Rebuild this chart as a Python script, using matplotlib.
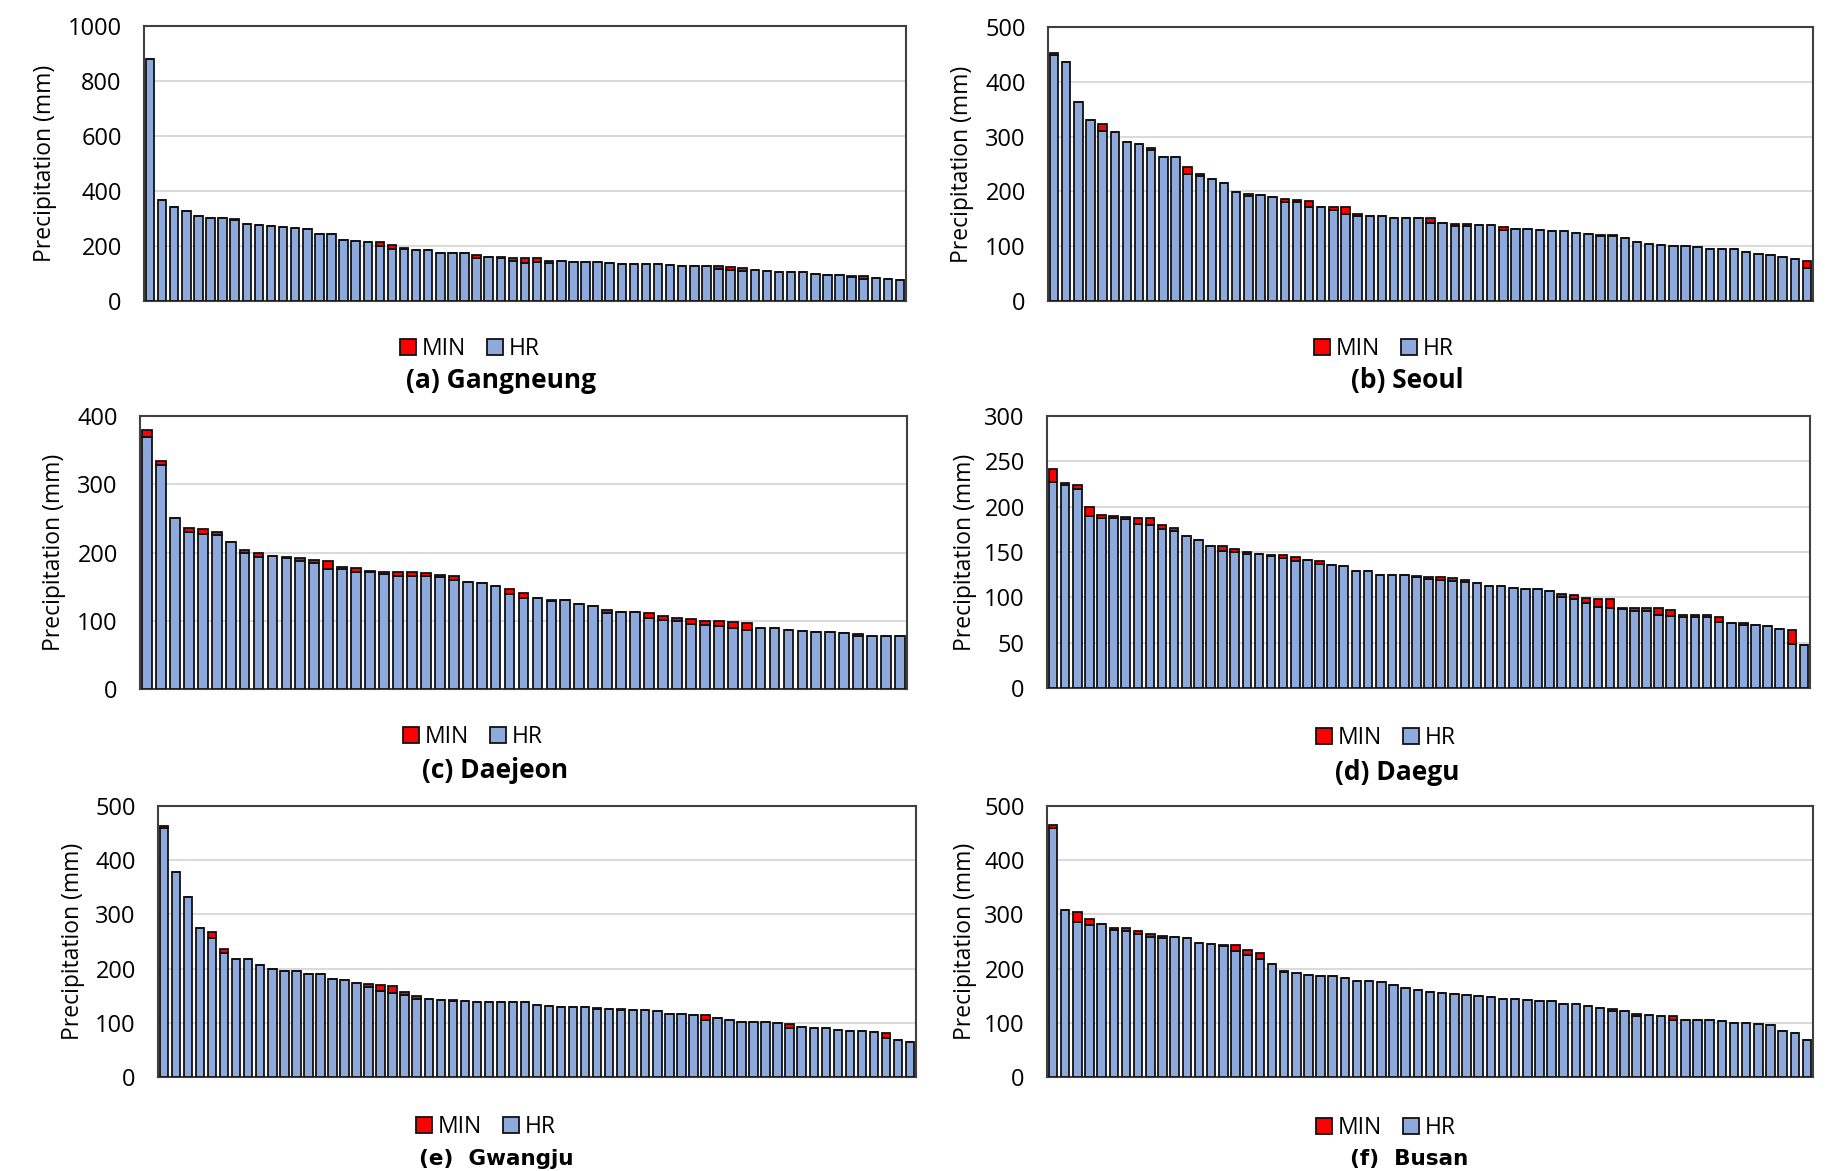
import matplotlib
matplotlib.use("Agg")
import matplotlib.pyplot as plt
import numpy as np

plt.rcParams['font.family'] = ['Open Sans', 'DejaVu Sans']

# ---------------- data ----------------
a_hr = [880, 368, 341, 329, 308, 303, 302, 295, 279, 275, 272, 270, 267, 261, 245, 245,
        223, 217, 216, 201, 190, 188, 187, 184, 175, 175, 174, 156, 161, 158, 144, 140,
        141, 140, 145, 142, 142, 141, 139, 136, 135, 134, 133, 131, 128, 128, 128, 117,
        113, 110, 113, 110, 107, 104, 104, 99, 96, 93, 89, 80, 82, 80, 76]
a_min = [0, 0, 0, 0, 0, 0, 0, 3, 0, 0, 0, 0, 0, 0, 0, 0,
         0, 0, 0, 12, 12, 6, 0, 0, 0, 0, 0, 13, 0, 3, 14, 18,
         15, 7, 0, 0, 0, 0, 0, 0, 0, 0, 0, 0, 0, 0, 0, 12,
         10, 10, 0, 0, 0, 0, 0, 0, 0, 0, 3, 10, 0, 0, 0]

b_hr = [448, 436, 364, 330, 311, 309, 290, 287, 275, 263, 262, 231, 228, 223, 215, 199,
        192, 193, 190, 181, 180, 172, 172, 166, 158, 155, 156, 156, 152, 152, 152, 142,
        143, 136, 136, 138, 138, 130, 132, 131, 130, 128, 127, 124, 123, 118, 118, 115,
        107, 104, 103, 101, 100, 98, 95, 94, 94, 90, 86, 84, 80, 77, 60]
b_min = [5, 0, 0, 0, 12, 0, 0, 0, 5, 0, 0, 14, 4, 0, 0, 0,
         3, 0, 0, 6, 5, 11, 0, 5, 13, 3, 0, 0, 0, 0, 0, 10,
         0, 5, 4, 0, 0, 5, 0, 0, 0, 0, 0, 0, 0, 3, 3, 0,
         0, 0, 0, 0, 0, 0, 0, 0, 0, 0, 0, 0, 0, 0, 13]

c_hr = [369, 328, 250, 230, 227, 225, 216, 199, 194, 195, 192, 187, 185, 176, 176, 171,
        171, 169, 166, 165, 165, 164, 160, 157, 155, 151, 139, 133, 134, 129, 130, 124,
        121, 112, 113, 113, 104, 101, 100, 95, 94, 92, 89, 87, 89, 89, 87, 85,
        84, 83, 82, 78, 78, 77, 77]
c_min = [10, 6, 0, 6, 7, 5, 0, 5, 5, 0, 2, 5, 4, 12, 3, 6,
         2, 3, 6, 6, 5, 3, 6, 0, 0, 0, 7, 7, 0, 2, 0, 0,
         0, 4, 0, 0, 8, 6, 4, 8, 6, 7, 9, 9, 0, 0, 0, 0,
         0, 0, 0, 2, 0, 0, 0]

d_hr = [227, 224, 220, 190, 188, 187, 186, 181, 180, 175, 173, 168, 163, 157, 151, 150,
        148, 148, 146, 143, 140, 141, 137, 136, 135, 129, 129, 125, 125, 125, 122, 120,
        119, 118, 117, 116, 113, 113, 110, 109, 109, 107, 100, 98, 94, 89, 88, 87,
        85, 85, 81, 79, 78, 78, 78, 73, 72, 69, 69, 68, 65, 49, 47]
d_min = [14, 2, 4, 10, 3, 3, 3, 6, 7, 5, 3, 0, 0, 0, 6, 3,
         2, 0, 1, 4, 4, 0, 3, 0, 0, 0, 0, 0, 0, 0, 2, 2,
         3, 3, 2, 0, 0, 0, 0, 0, 0, 0, 4, 5, 5, 9, 10, 1,
         3, 3, 7, 7, 3, 3, 2, 5, 0, 3, 0, 0, 0, 15, 0]

e_hr = [460, 379, 332, 274, 257, 228, 218, 218, 207, 199, 196, 195, 190, 190, 180, 179,
        174, 166, 159, 155, 151, 144, 144, 142, 140, 140, 139, 139, 139, 138, 138, 133,
        131, 129, 129, 129, 126, 126, 124, 124, 123, 121, 117, 117, 115, 106, 108, 105,
        102, 102, 101, 99, 91, 92, 91, 90, 86, 85, 84, 83, 72, 69, 64]
e_min = [4, 0, 0, 0, 10, 9, 0, 0, 0, 0, 0, 0, 0, 0, 0, 0,
         0, 6, 10, 13, 5, 6, 0, 0, 2, 0, 0, 0, 0, 0, 0, 0,
         0, 0, 0, 0, 2, 0, 2, 0, 0, 0, 0, 0, 0, 8, 0, 0,
         0, 0, 0, 0, 7, 0, 0, 0, 0, 0, 0, 0, 9, 0, 0]

f_hr = [460, 309, 286, 281, 283, 272, 269, 263, 259, 257, 258, 257, 248, 246, 242, 232,
        226, 217, 209, 193, 192, 188, 187, 187, 182, 178, 177, 175, 170, 165, 161, 157,
        155, 153, 152, 150, 147, 144, 143, 142, 141, 141, 134, 134, 131, 128, 122, 122,
        112, 114, 113, 106, 106, 106, 105, 104, 99, 99, 97, 96, 84, 81, 68]
f_min = [5, 0, 19, 10, 0, 3, 5, 7, 5, 4, 0, 0, 0, 0, 2, 11,
         8, 11, 0, 2, 0, 0, 0, 0, 0, 0, 0, 0, 0, 0, 0, 0,
         0, 0, 0, 0, 0, 0, 0, 0, 0, 0, 0, 0, 0, 0, 3, 0,
         5, 0, 0, 6, 0, 0, 0, 0, 0, 0, 0, 0, 0, 0, 0]

titles = ['(a) Gangneung', '(b) Seoul', '(c) Daejeon', '(d) Daegu', '(e)  Gwangju', '(f)  Busan']
y_max = [1000, 500, 400, 300, 500, 500]
y_step = [200, 100, 100, 50, 100, 100]
series = [(a_hr, a_min), (b_hr, b_min), (c_hr, c_min), (d_hr, d_min), (e_hr, e_min), (f_hr, f_min)]

# ---------------- layout (pixels) ----------------
W, H = 1831, 1171
# x0, x1, ytop, ybottom
boxes = [(144, 906, 26, 301), (1048, 1813, 27, 301),
         (140, 907, 416, 689), (1047, 1810, 416, 688),
         (158, 916, 806, 1077), (1047, 1813, 806, 1077)]
ylab_x = [45, 962, 54, 965, 73, 965]
leg_pos = [(470, 349), (1384, 349), (473, 737), (1386, 738), (486, 1127), (1386, 1128)]
title_pos = [(501, 381), (1407, 381), (495, 770), (1397, 773), (496, 1159), (1409, 1159)]

HR_COLOR = '#8EA9DB'
MIN_COLOR = '#FF0000'
EDGE = '#111111'

fig = plt.figure(figsize=(W / 100, H / 100), dpi=100)

for i, ((hr, mn), box) in enumerate(zip(series, boxes)):
    x0, x1, yt, yb = box
    ax = fig.add_axes([x0 / W, 1 - yb / H, (x1 - x0) / W, (yb - yt) / H])
    x = np.arange(len(hr))
    hr_a = np.array(hr, dtype=float)
    mn_a = np.array(mn, dtype=float)
    b1 = ax.bar(x, hr_a, width=0.7, color=HR_COLOR, edgecolor=EDGE, linewidth=1.3,
                zorder=3, label='HR')
    b2 = ax.bar(x, mn_a, width=0.7, bottom=hr_a, color=MIN_COLOR, edgecolor=EDGE,
                linewidth=1.3, zorder=3, label='MIN')
    ax.set_xlim(-0.5, len(hr) - 0.5)
    ax.set_ylim(0, y_max[i])
    ax.set_yticks(np.arange(0, y_max[i] + 1, y_step[i]))
    ax.set_xticks([])
    ax.tick_params(axis='y', length=0, pad=16, labelsize=17)
    ax.yaxis.grid(True, color='#D9D9D9', linewidth=1.4, zorder=0)
    ax.set_axisbelow(True)
    for s in ax.spines.values():
        s.set_color('#404040')
        s.set_linewidth(1.5)
    fig.text(ylab_x[i] / W, 1 - ((yt + yb) / 2) / H, 'Precipitation (mm)', rotation=90,
             ha='center', va='center', fontsize=16.5)
    lx, ly = leg_pos[i]
    ax.legend([b2, b1], ['MIN', 'HR'], loc='center', ncol=2, frameon=False,
              bbox_to_anchor=(lx / W, 1 - ly / H), bbox_transform=fig.transFigure,
              fontsize=16.5, handlelength=0.7, handleheight=0.7, handletextpad=0.25,
              columnspacing=0.9, borderpad=0)
    tx, ty = title_pos[i]
    if i < 4:
        fig.text(tx / W, 1 - ty / H, titles[i], ha='center', va='center', fontsize=19,
                 fontweight='bold')
    else:
        fig.text(tx / W, 1 - ty / H, titles[i], ha='center',
                 va='center', fontsize=15.5, fontweight='bold',
                 family=['DejaVu Sans'])

fig.savefig('out.png', dpi=100, facecolor='white')
